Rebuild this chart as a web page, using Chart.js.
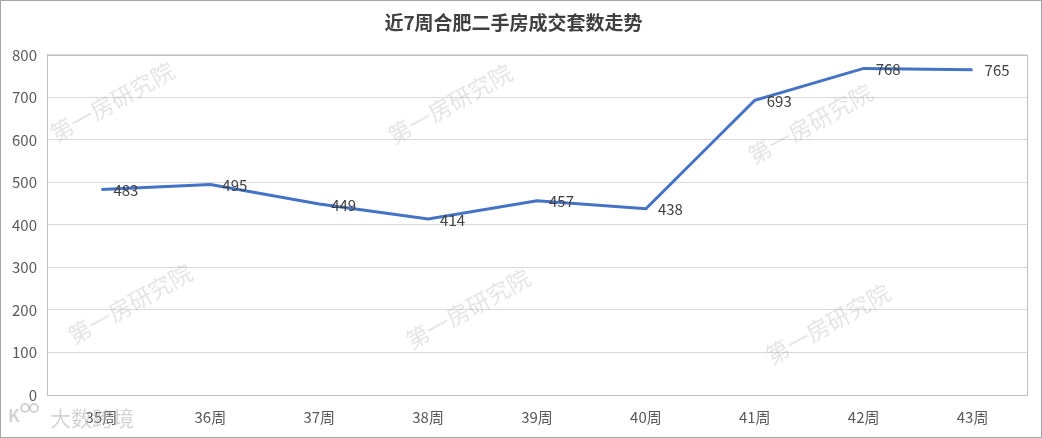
<!DOCTYPE html>
<html>
<head>
<meta charset="utf-8">
<script src="https://cdn.jsdelivr.net/npm/chart.js@4"></script>
<style>
  html,body{margin:0;padding:0;background:#fff;}
  #wrap{width:1042px;height:438px;position:relative;}
</style>
</head>
<body>
<div id="wrap"><canvas id="c"></canvas></div>
<script>
// 数据
const weeks  = ['35周','36周','37周','38周','39周','40周','41周','42周','43周'];
const deals  = [483, 495, 449, 414, 457, 438, 693, 768, 765];
const yTicks = [0, 100, 200, 300, 400, 500, 600, 700, 800];
const chartTitle = '近7周合肥二手房成交套数走势';
const markText = '第一房研究院';

const FONT = '"Noto Sans CJK SC", "Microsoft YaHei", sans-serif';

// watermark + frame + data labels
const decor = {
  id: 'decor',
  beforeDatasetsDraw(chart) {
    const ctx = chart.ctx, a = chart.chartArea;
    ctx.save();
    // plot area frame (top/right)
    ctx.strokeStyle = '#bfbfbf';
    ctx.lineWidth = 1;
    ctx.strokeRect(Math.round(a.left)+0.5, Math.round(a.top)+0.5, Math.round(a.right-a.left), Math.round(a.bottom-a.top));
    // watermarks
    ctx.fillStyle = 'rgba(150,150,150,0.26)';
    ctx.font = '23px ' + FONT;
    ctx.textAlign = 'center';
    ctx.textBaseline = 'middle';
    [[112,102],[450,104],[810,124],[130,304],[468,309],[828,324]].forEach(([x,y]) => {
      ctx.save();
      ctx.translate(x, y);
      ctx.rotate(-Math.PI/6.2);
      ctx.fillText(markText, 0, 0);
      ctx.restore();
    });
    ctx.restore();
  },
  afterDatasetsDraw(chart) {
    const ctx = chart.ctx;
    const meta = chart.getDatasetMeta(0);
    ctx.save();
    ctx.fillStyle = '#404040';
    ctx.font = '15px ' + FONT;
    ctx.textAlign = 'left';
    ctx.textBaseline = 'middle';
    meta.data.forEach((pt, i) => {
      ctx.fillText(String(deals[i]), pt.x + 12, pt.y + 1);
    });
    // bottom-left logo watermark
    ctx.fillStyle = 'rgba(175,175,175,0.55)';
    ctx.font = '21px ' + FONT;
    ctx.fillText('大数跨境', 50, 418);
    ctx.font = 'bold 17px ' + FONT;
    ctx.fillText('K', 8, 416);
    ctx.strokeStyle = 'rgba(175,175,175,0.55)';
    ctx.lineWidth = 2;
    [[25,408],[34,408]].forEach(([x,y]) => { ctx.beginPath(); ctx.arc(x,y,4,0,Math.PI*2); ctx.stroke(); });
    // outer border
    ctx.strokeStyle = '#a6a6a6';
    ctx.lineWidth = 1;
    ctx.strokeRect(0.5, 0.5, chart.width-1, chart.height-1);
    ctx.restore();
  }
};

new Chart(document.getElementById('c'), {
  type: 'line',
  data: {
    labels: weeks,
    datasets: [{
      data: deals,
      borderColor: '#4472c4',
      borderWidth: 3,
      pointRadius: 0,
      tension: 0,
      fill: false
    }]
  },
  options: {
    responsive: true,
    maintainAspectRatio: false,
    animation: false,
    layout: { padding: { left: 0, right: 15, top: 0, bottom: 10 } },
    plugins: {
      legend: { display: false },
      tooltip: { enabled: false },
      title: {
        display: true,
        text: chartTitle,
        color: '#404040',
        font: { family: FONT, size: 19, weight: 'bold' },
        padding: { top: 11, bottom: 21 }
      }
    },
    scales: {
      x: {
        offset: true,
        grid: { display: false },
        border: { display: true, color: '#bfbfbf' },
        ticks: { color: '#595959', font: { family: FONT, size: 15 }, padding: 5 },
        afterFit(s) { s.height = 33; }
      },
      y: {
        min: 0, max: 800,
        afterBuildTicks(s) { s.ticks = yTicks.map(v => ({ value: v })); },
        grid: { color: '#d9d9d9', drawTicks: false },
        border: { display: true, color: '#bfbfbf' },
        ticks: { color: '#595959', font: { family: FONT, size: 15 }, padding: 10 },
        afterFit(s) { s.width = 47; }
      }
    }
  },
  plugins: [decor]
});
</script>
</body>
</html>
